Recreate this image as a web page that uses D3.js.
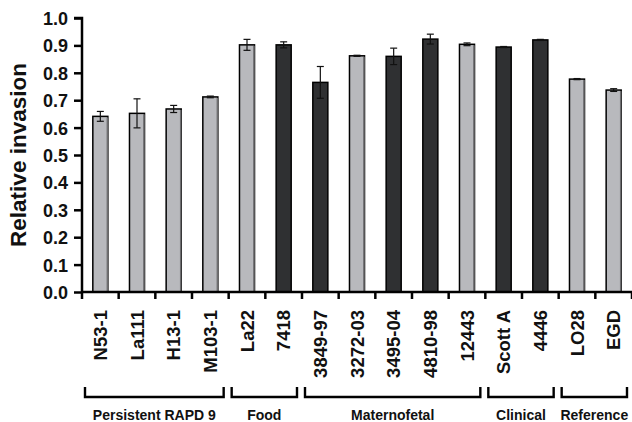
<!DOCTYPE html>
<html>
<head>
<meta charset="utf-8">
<script src="https://cdn.jsdelivr.net/npm/d3@7"></script>
<style>
  body { margin: 0; background: #fff; }
  text { font-family: "Liberation Sans", Arial, sans-serif; font-weight: bold; fill: #111; }
</style>
</head>
<body>
<svg id="chart"></svg>
<script>
const strains = ['N53-1', 'La111', 'H13-1', 'M103-1', 'La22', '7418', '3849-97', '3272-03', '3495-04', '4810-98', '12443', 'Scott A', '4446', 'LO28', 'EGD'];
const invasion = [0.641, 0.652, 0.668, 0.712, 0.902, 0.902, 0.765, 0.862, 0.860, 0.923, 0.904, 0.894, 0.920, 0.777, 0.737];
const errors = [0.018, 0.053, 0.013, 0.003, 0.020, 0.011, 0.058, 0.002, 0.030, 0.018, 0.005, 0.002, 0.002, 0.002, 0.005];
const shade = ['light', 'light', 'light', 'light', 'light', 'dark', 'dark', 'light', 'dark', 'dark', 'light', 'dark', 'dark', 'light', 'light'];
const groups = ['Persistent RAPD 9', 'Food', 'Maternofetal', 'Clinical', 'Reference'];
const groupSpan = [[0, 3], [4, 5], [6, 10], [11, 12], [13, 14]];
const yTicks = [0, 0.1, 0.2, 0.3, 0.4, 0.5, 0.6, 0.7, 0.8, 0.9, 1.0];

const svg = d3.select('svg#chart')
  .attr('width', 632)
  .attr('height', 422);

const mLeft = 82, mRight = 632, mTop = 18, mBottom = 292;

const x = d3.scaleBand()
  .domain(strains)
  .range([mLeft, mRight])
  .paddingInner(0.59)
  .paddingOuter(0.295);

const y = d3.scaleLinear()
  .domain([0, 1])
  .range([mBottom, mTop]);

const step = x.step();
const gap = (step - x.bandwidth()) / 2;
const fills = { light: '#b8b9bd', dark: '#2f3032' };

// bars
const bars = svg.append('g');
bars.selectAll('rect')
  .data(strains)
  .enter()
  .append('rect')
  .attr('x', (d) => x(d))
  .attr('y', (d, i) => y(invasion[i]))
  .attr('width', x.bandwidth())
  .attr('height', (d, i) => y(0) - y(invasion[i]))
  .attr('fill', (d, i) => fills[shade[i]])
  .attr('stroke', '#000')
  .attr('stroke-width', 1.5);

// grey shading on right edge of light bars
bars.selectAll('line.edge')
  .data(strains.filter((d, i) => shade[i] === 'light'))
  .enter()
  .append('line')
  .attr('class', 'edge')
  .attr('x1', (d) => x(d) + x.bandwidth() - 0.5)
  .attr('x2', (d) => x(d) + x.bandwidth() - 0.5)
  .attr('y1', (d) => y(invasion[strains.indexOf(d)]) + 1)
  .attr('y2', y(0))
  .attr('stroke', '#6e6e70')
  .attr('stroke-width', 1.5);

// error bars
const err = svg.append('g').attr('stroke', '#111').attr('stroke-width', 1.2);
strains.forEach((s, i) => {
  const cx = x(s) + x.bandwidth() / 2;
  const hi = y(invasion[i] + errors[i]);
  const lo = y(invasion[i] - errors[i]);
  err.append('line').attr('x1', cx).attr('x2', cx).attr('y1', hi).attr('y2', lo);
  err.append('line').attr('x1', cx - 3.5).attr('x2', cx + 3.5).attr('y1', hi).attr('y2', hi);
  err.append('line').attr('x1', cx - 3.5).attr('x2', cx + 3.5).attr('y1', lo).attr('y2', lo);
});

// y axis
const yAxis = svg.append('g')
  .attr('transform', `translate(${mLeft}, 0)`)
  .call(d3.axisLeft(y).tickValues(yTicks).tickFormat(d3.format('.1f')).tickSize(8).tickPadding(6));
yAxis.select('.domain').attr('stroke', '#000').attr('stroke-width', 2.5)
  .attr('d', `M-8,${mTop}H0V${mBottom + 7}`);
yAxis.selectAll('.tick line').attr('stroke', '#000').attr('stroke-width', 2.5);
yAxis.selectAll('.tick text').style('font-size', '18px').attr('dy', '0.36em');

// x axis with ticks at band boundaries
const xAxis = svg.append('g');
xAxis.append('line')
  .attr('x1', mLeft).attr('x2', mRight)
  .attr('y1', mBottom).attr('y2', mBottom)
  .attr('stroke', '#000').attr('stroke-width', 2.5);
xAxis.selectAll('line.tk')
  .data(strains)
  .enter()
  .append('line')
  .attr('class', 'tk')
  .attr('x1', (d) => x(d) - gap + step)
  .attr('x2', (d) => x(d) - gap + step)
  .attr('y1', mBottom)
  .attr('y2', mBottom + 7)
  .attr('stroke', '#000')
  .attr('stroke-width', 2.5);

xAxis.selectAll('text')
  .data(strains)
  .enter()
  .append('text')
  .attr('transform', (d) => `translate(${x(d) + x.bandwidth() / 2}, 310) rotate(-90)`)
  .attr('text-anchor', 'end')
  .attr('dy', '0.36em')
  .style('font-size', '18.5px')
  .text((d) => d);

// y label
svg.append('text')
  .attr('transform', `translate(26, ${(mTop + mBottom) / 2}) rotate(-90)`)
  .attr('text-anchor', 'middle')
  .style('font-size', '22.5px')
  .text('Relative invasion');

// group brackets
const br = svg.append('g');
groups.forEach((g, i) => {
  const [a, b] = groupSpan[i];
  const x0 = x(strains[a]) - gap + 3;
  const x1 = x(strains[b]) - gap + step - 5;
  br.append('path')
    .attr('d', `M${x0},387V397H${x1}V387`)
    .attr('fill', 'none')
    .attr('stroke', '#000')
    .attr('stroke-width', 2.4);
  br.append('text')
    .attr('x', (x0 + x1) / 2)
    .attr('y', 420)
    .attr('text-anchor', 'middle')
    .style('font-size', '14px')
    .text(g);
});
</script>
</body>
</html>
